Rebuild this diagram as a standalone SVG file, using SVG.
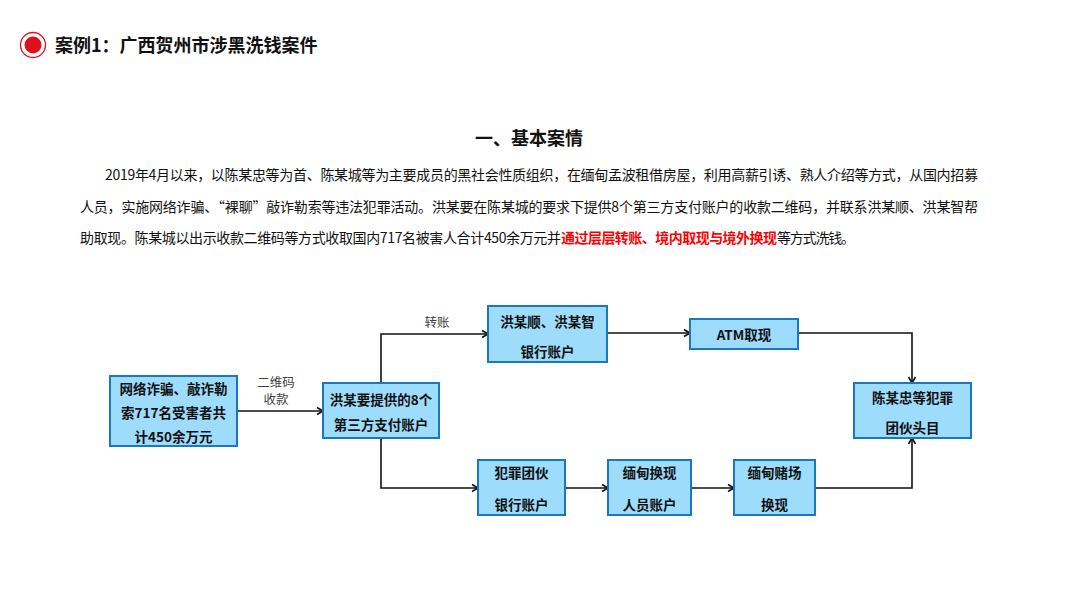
<svg xmlns="http://www.w3.org/2000/svg" width="1080" height="600" viewBox="0 0 1080 600">
<style>
.t{font-family:"Noto Sans CJK SC","Liberation Sans",sans-serif;}
.hdr{font-size:18px;font-weight:bold;fill:#111;}
.p{font-size:14px;fill:#111;}
.red{fill:#ff0000;font-weight:bold;}
.box{fill:#9edcfb;stroke:#1a78c2;stroke-width:2;}
.nt{font-size:13.5px;font-weight:bold;fill:#111;text-anchor:middle;}
.lbl{font-size:12.5px;fill:#404040;text-anchor:middle;}
.c{fill:none;stroke:#111;stroke-width:1.6;}
</style>
<defs>
<marker id="ah" markerWidth="10" markerHeight="10" refX="8" refY="5" orient="auto" markerUnits="userSpaceOnUse">
<path d="M2,1.5 L8,5 L2,8.5" fill="none" stroke="#111" stroke-width="1.6"/>
</marker>
</defs>
<rect width="1080" height="600" fill="#ffffff"/>
<g id="header">
<circle cx="33" cy="45" r="12.5" fill="none" stroke="#e0101a" stroke-width="1.3"/>
<circle cx="33" cy="45" r="8.5" fill="#e0101a"/>
<text class="t hdr" x="55" y="52">案例1：广西贺州市涉黑洗钱案件</text>
</g>
<g id="intro">
<text class="t" x="475" y="145" font-size="18" font-weight="bold" fill="#111">一、基本案情</text>
<text class="t p" x="105" y="180" textLength="873" lengthAdjust="spacing">2019年4月以来，以陈某忠等为首、陈某城等为主要成员的黑社会性质组织，在缅甸孟波租借房屋，利用高薪引诱、熟人介绍等方式，从国内招募</text>
<text class="t p" x="80" y="212" textLength="898" lengthAdjust="spacing">人员，实施网络诈骗、“裸聊”敲诈勒索等违法犯罪活动。洪某要在陈某城的要求下提供8个第三方支付账户的收款二维码，并联系洪某顺、洪某智帮</text>
<text class="t p" y="243"><tspan x="80" textLength="481" lengthAdjust="spacing">助取现。陈某城以出示收款二维码等方式收取国内717名被害人合计450余万元并</tspan><tspan class="red" x="561" textLength="216" lengthAdjust="spacing">通过层层转账、境内取现与境外换现</tspan><tspan x="777" textLength="78" lengthAdjust="spacing">等方式洗钱。</tspan></text>
</g>
<g id="connectors">
<line class="c" x1="237" y1="411" x2="323" y2="411" marker-end="url(#ah)"/>
<polyline class="c" points="381,383 381,334 488,334" marker-end="url(#ah)"/>
<line class="c" x1="607" y1="333" x2="690" y2="333" marker-end="url(#ah)"/>
<polyline class="c" points="798,333 912,333 912,383" marker-end="url(#ah)"/>
<polyline class="c" points="381,438 381,488 478,488" marker-end="url(#ah)"/>
<line class="c" x1="565" y1="488" x2="608" y2="488" marker-end="url(#ah)"/>
<line class="c" x1="691" y1="488" x2="734" y2="488" marker-end="url(#ah)"/>
<polyline class="c" points="815,488 912,488 912,438" marker-end="url(#ah)"/>
<text class="t lbl" x="276" y="387">二维码</text>
<text class="t lbl" x="276" y="404">收款</text>
<text class="t lbl" x="437" y="327">转账</text>
</g>
<g id="n1">
<rect class="box" x="110" y="376" width="127" height="70"/>
<text class="t nt" x="173.5" y="394">网络诈骗、敲诈勒</text>
<text class="t nt" x="173.5" y="418">索717名受害者共</text>
<text class="t nt" x="173.5" y="442">计450余万元</text>
</g>
<g id="n2">
<rect class="box" x="323" y="383" width="116" height="55"/>
<text class="t nt" x="381" y="405">洪某要提供的8个</text>
<text class="t nt" x="381" y="430">第三方支付账户</text>
</g>
<g id="n3">
<rect class="box" x="488" y="306" width="119" height="56"/>
<text class="t nt" x="547.5" y="327">洪某顺、洪某智</text>
<text class="t nt" x="547.5" y="357">银行账户</text>
</g>
<g id="n4">
<rect class="box" x="690" y="319" width="108" height="30"/>
<text class="t nt" x="744" y="340">ATM取现</text>
</g>
<g id="n5">
<rect class="box" x="854" y="383" width="117" height="55"/>
<text class="t nt" x="912.5" y="403">陈某忠等犯罪</text>
<text class="t nt" x="912.5" y="433">团伙头目</text>
</g>
<g id="n6">
<rect class="box" x="478" y="460" width="87" height="55"/>
<text class="t nt" x="521.5" y="478">犯罪团伙</text>
<text class="t nt" x="521.5" y="510">银行账户</text>
</g>
<g id="n7">
<rect class="box" x="608" y="460" width="83" height="55"/>
<text class="t nt" x="649.5" y="478">缅甸换现</text>
<text class="t nt" x="649.5" y="510">人员账户</text>
</g>
<g id="n8">
<rect class="box" x="734" y="460" width="81" height="55"/>
<text class="t nt" x="774.5" y="478">缅甸赌场</text>
<text class="t nt" x="774.5" y="510">换现</text>
</g>
</svg>
